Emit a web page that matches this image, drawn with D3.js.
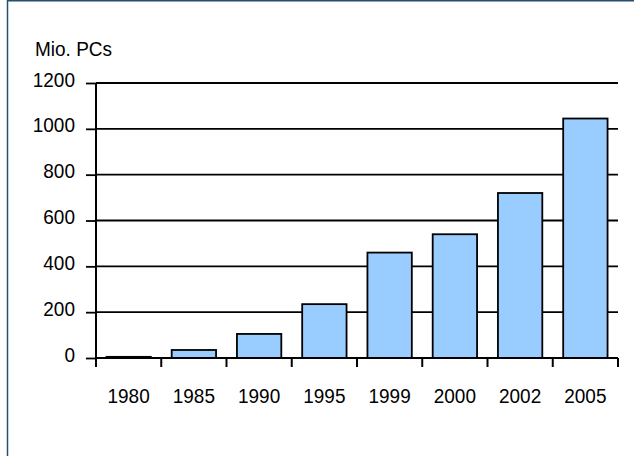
<!DOCTYPE html>
<html>
<head>
<meta charset="utf-8">
<script src="https://cdn.jsdelivr.net/npm/d3@7"></script>
<style>
  html, body { margin: 0; padding: 0; background: #fff; }
  svg { display: block; }
  text { font-family: "Liberation Sans", Arial, sans-serif; fill: #000; }
</style>
</head>
<body>
<svg id="chart" width="634" height="456"></svg>
<script>
// PCs in use worldwide, millions
const years = ["1980", "1985", "1990", "1995", "1999", "2000", "2002", "2005"];
const pcs = [5, 35, 105, 235, 460, 540, 720, 1045];
const yTicks = [0, 200, 400, 600, 800, 1000, 1200];
const unitLabel = "Mio. PCs";

const svg = d3.select("#chart");
const W = 634, H = 456;
const plot = { left: 96, right: 618, top: 83, bottom: 358 };
const fs = 19;   // label font size
const sy = 1.1;  // slightly tall lettering

// outer frame: top and left edges
svg.append("path")
  .attr("d", `M7.5,${H}V0.75H${W}`)
  .attr("fill", "none").attr("stroke", "#23506f").attr("stroke-width", 1.5);

const x = d3.scaleBand()
  .domain(years)
  .range([plot.left, plot.right])
  .paddingInner(0.32)
  .paddingOuter(0.16);

const y = d3.scaleLinear()
  .domain([0, 1200])
  .range([plot.bottom, plot.top]);

// horizontal gridlines
svg.append("g")
  .selectAll("line")
  .data(yTicks.filter(d => d > 0))
  .join("line")
  .attr("x1", plot.left).attr("x2", plot.right)
  .attr("y1", d => y(d)).attr("y2", d => y(d))
  .attr("stroke", "#000").attr("stroke-width", 1.8);

// bars
svg.append("g")
  .selectAll("rect")
  .data(years.map((c, i) => ({ c, v: pcs[i] })))
  .join("rect")
  .attr("x", d => x(d.c))
  .attr("width", x.bandwidth())
  .attr("y", d => y(d.v))
  .attr("height", d => y(0) - y(d.v))
  .attr("fill", "#99ccff")
  .attr("stroke", "#000")
  .attr("stroke-width", 1.8);

// y axis
const yAxis = svg.append("g")
  .attr("transform", `translate(${plot.left},0)`)
  .call(d3.axisLeft(y).tickValues(yTicks).tickSize(10).tickPadding(0).tickFormat(d3.format("d")));
yAxis.select(".domain").attr("stroke", "#000").attr("stroke-width", 2).attr("d", `M0,${plot.top}V${plot.bottom}`);
yAxis.selectAll(".tick line").attr("stroke", "#000").attr("stroke-width", 1.8);
yAxis.selectAll(".tick text")
  .attr("font-size", fs)
  .attr("x", -21)
  .attr("dy", null)
  .attr("y", 3 / sy)
  .attr("transform", `scale(1,${sy})`)
  .attr("font-family", "Liberation Sans, Arial, sans-serif");

// x axis with ticks on category boundaries
const xAxis = svg.append("g")
  .attr("transform", `translate(0,${plot.bottom})`);
xAxis.append("line")
  .attr("x1", plot.left).attr("x2", plot.right)
  .attr("y1", 0).attr("y2", 0)
  .attr("stroke", "#000").attr("stroke-width", 2);
const step = x.step();
xAxis.selectAll("line.bound")
  .data(d3.range(years.length + 1))
  .join("line")
  .attr("class", "bound")
  .attr("x1", i => plot.left + i * step).attr("x2", i => plot.left + i * step)
  .attr("y1", 0).attr("y2", 9)
  .attr("stroke", "#000").attr("stroke-width", 2);
xAxis.selectAll("text")
  .data(years)
  .join("text")
  .attr("x", d => x(d) + x.bandwidth() / 2)
  .attr("y", 45 / sy)
  .attr("transform", `scale(1,${sy})`)
  .attr("text-anchor", "middle")
  .attr("font-size", fs)
  .text(d => d);

// unit label
svg.append("text")
  .attr("x", 35)
  .attr("y", 56 / sy)
  .attr("transform", `scale(1,${sy})`)
  .attr("font-size", fs)
  .text(unitLabel);
</script>
</body>
</html>
